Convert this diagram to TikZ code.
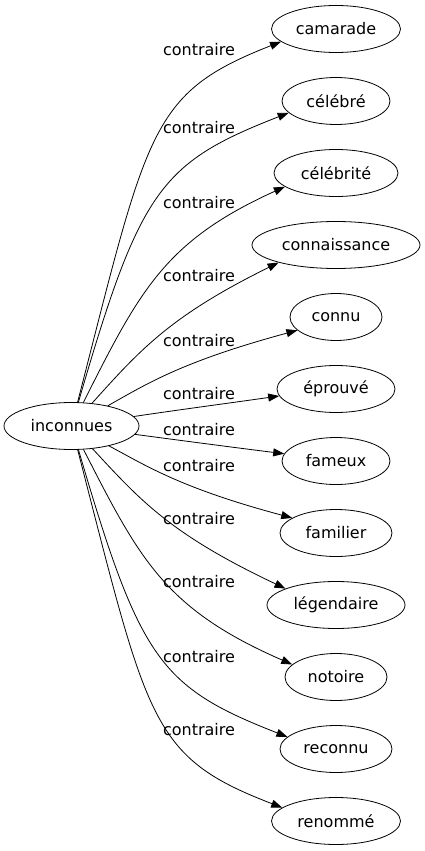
\documentclass[tikz,border=0pt]{standalone}
\usepackage{fontspec}
\setmainfont{DejaVu Sans}
\usetikzlibrary{shapes.geometric,arrows.meta}
\begin{document}
\begin{tikzpicture}[x=1pt,y=-1pt,
  word/.style={draw, ellipse, inner sep=0pt, minimum height=47pt, line width=0.8pt, font=\fontsize{16}{19}\selectfont},
  rel/.style={inner sep=0pt, font=\fontsize{16}{19}\selectfont},
  link/.style={draw, line width=0.8pt, -{Triangle[length=11pt,width=8pt]}}]
\useasboundingbox (0,0) rectangle (424,851);
% nodes
\node[word, minimum width=135pt] (inc) at (71.5,426) {inconnues};
\node[word, minimum width=129pt] (camarade) at (336,29) {camarade};
\node[word, minimum width=108pt] (celebre) at (336,101) {célébré};
\node[word, minimum width=124pt] (celebrite) at (336,173) {célébrité};
\node[word, minimum width=168pt] (connaissance) at (336,245) {connaissance};
\node[word, minimum width=92pt] (connu) at (336,317) {connu};
\node[word, minimum width=118pt] (eprouve) at (336,389) {éprouvé};
\node[word, minimum width=108pt] (fameux) at (336,461) {fameux};
\node[word, minimum width=112pt] (familier) at (336,533) {familier};
\node[word, minimum width=138pt] (legendaire) at (336,605) {légendaire};
\node[word, minimum width=102pt] (notoire) at (336,677) {notoire};
\node[word, minimum width=112pt] (reconnu) at (336,749) {reconnu};
\node[word, minimum width=129pt] (renomme) at (336,821) {renommé};
% labels
\node[rel] (l1) at (199,50) {contraire};
\node[rel] (l2) at (199,128) {contraire};
\node[rel] (l3) at (199,203) {contraire};
\node[rel] (l4) at (199,276) {contraire};
\node[rel] (l5) at (199,341) {contraire};
\node[rel] (l6) at (199,394) {contraire};
\node[rel] (l7) at (199,430) {contraire};
\node[rel] (l8) at (199,466) {contraire};
\node[rel] (l9) at (199,519) {contraire};
\node[rel] (l10) at (199,582) {contraire};
\node[rel] (l11) at (199,657) {contraire};
\node[rel] (l12) at (199,730) {contraire};
% edges
\draw[link] (inc) .. controls (148,128) and (150,93) .. (camarade.193.5);
\draw[link] (inc) .. controls (140,190) and (160,163) .. (celebre.194);
\draw[link] (inc) .. controls (140,290) and (165,241) .. (celebrite.195.4);
\draw[link] (inc) .. controls (140,350) and (170,316) .. (connaissance.197.2);
\draw[link] (inc) .. controls (145,385) and (180,362) .. (connu.199);
\draw[link] (inc) .. controls (170,411) and (230,403) .. (eprouve.187.7);
\draw[link] (inc) .. controls (170,439) and (230,447) .. (fameux.172.3);
\draw[link] (inc) .. controls (145,465) and (180,488) .. (familier.161);
\draw[link] (inc) .. controls (140,500) and (170,534) .. (legendaire.162.8);
\draw[link] (inc) .. controls (140,560) and (165,609) .. (notoire.164.6);
\draw[link] (inc) .. controls (140,660) and (160,687) .. (reconnu.166);
\draw[link] (inc) .. controls (148,722) and (150,757) .. (renomme.166.5);
\end{tikzpicture}
\end{document}
